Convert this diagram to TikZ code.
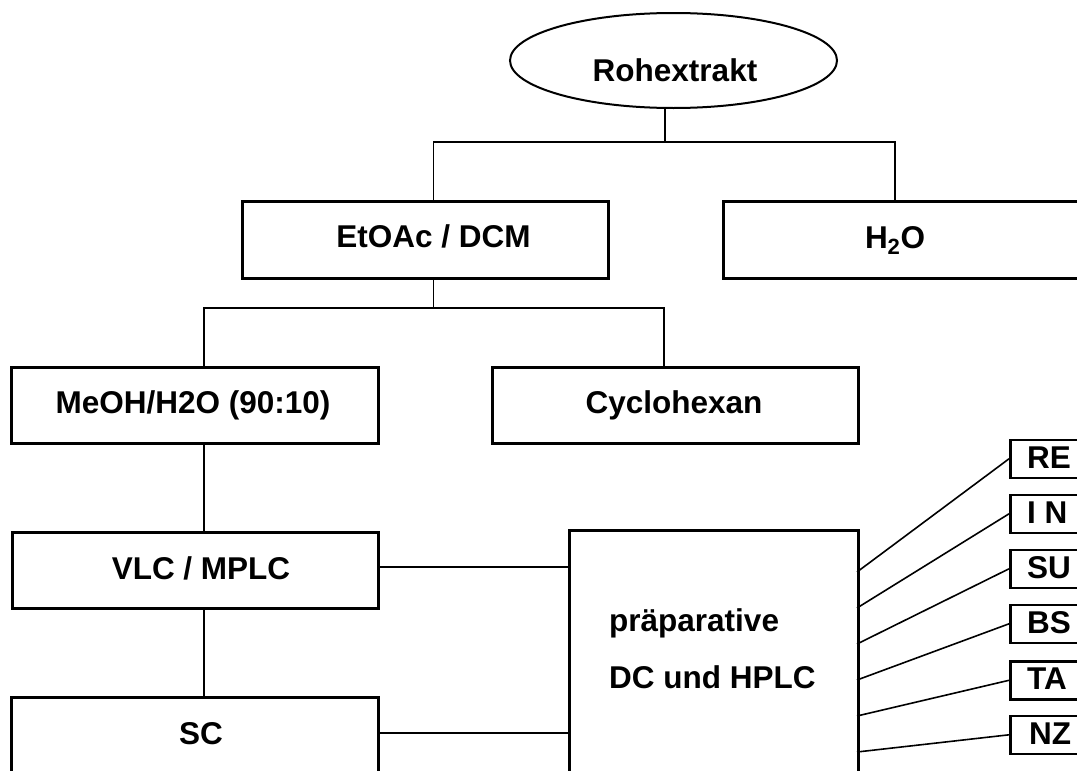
\documentclass[tikz,border=0pt]{standalone}
\usepackage{fontspec}
\setmainfont{Liberation Sans}
\usetikzlibrary{shapes.geometric}
\begin{document}
\begin{tikzpicture}[x=1pt,y=-1pt]
\tikzset{
  boxn/.style={draw, line width=2.6pt, rectangle, inner sep=0pt, anchor=north west},
  lbl/.style={font=\fontsize{31.5}{38}\selectfont\bfseries, inner sep=0pt, anchor=base},
  lblw/.style={lbl, anchor=base west},
  conn/.style={line width=1.6pt},
}
\useasboundingbox (0,0) rectangle (1077,771);
\clip (0,0) rectangle (1077,771);
\fill[white] (0,0) rectangle (1077,771);

% top
\node[ellipse, draw, line width=2pt, minimum width=327pt, minimum height=95pt, inner sep=0pt] (rohex) at (673.5,60.5) {};
\node[lbl] (trohex) at (675,81) {Rohextrakt};

% level 2
\node[boxn, minimum width=366pt, minimum height=77pt] (etoac) at (241,200) {};
\node[lbl] (tetoac) at (433.5,247) {EtOAc / DCM};
\node[boxn, minimum width=400pt, minimum height=77pt] (h2o) at (722,200) {};
\node[lbl] (th2o) at (895,248) {H\textsubscript{2}O};

% level 3
\node[boxn, minimum width=367pt, minimum height=76pt] (meoh) at (10,366) {};
\node[lbl] (tmeoh) at (193,413) {MeOH/H2O (90:10)};
\node[boxn, minimum width=366pt, minimum height=76pt] (cyclo) at (491,366) {};
\node[lbl] (tcyclo) at (674,413) {Cyclohexan};

% left column
\node[boxn, minimum width=366pt, minimum height=76pt] (vlc) at (11,531) {};
\node[lbl] (tvlc) at (201,579) {VLC / MPLC};
\node[boxn, minimum width=367pt, minimum height=90pt] (sc) at (10,696) {};
\node[lbl] (tsc) at (201,744) {SC};

% preparative box
\node[boxn, minimum width=289pt, minimum height=290pt] (prep) at (568,529) {};
\node[lblw] (tprep1) at (609,631) {präparative};
\node[lblw] (tprep2) at (609,688) {DC und HPLC};

% right boxes
\node[boxn, minimum width=120pt, minimum height=38pt] (re) at (1009,438.5) {};
\node[lblw] (tre) at (1027,468) {RE};
\node[boxn, minimum width=120pt, minimum height=38pt] (in) at (1009,493.5) {};
\node[lblw] (tin) at (1027,523) {I N};
\node[boxn, minimum width=120pt, minimum height=38pt] (su) at (1009,548.5) {};
\node[lblw] (tsu) at (1027,578) {SU};
\node[boxn, minimum width=120pt, minimum height=38pt] (bs) at (1009,603.5) {};
\node[lblw] (tbs) at (1027,633) {BS};
\node[boxn, minimum width=120pt, minimum height=38pt] (ta) at (1009,660) {};
\node[lblw] (tta) at (1027,689.5) {TA};
\node[boxn, minimum width=120pt, minimum height=38pt] (nz) at (1009,714.5) {};
\node[lblw] (tnz) at (1029,744) {NZ};

% connectors
\coordinate (j1) at (665,142);
\draw[conn] (rohex.south -| j1) -- (j1);
\draw[conn] (etoac.north -| tetoac) |- (j1) -| (h2o.north -| th2o);
\coordinate (j2) at (433.5,308);
\draw[conn] (etoac.south -| j2) -- (j2);
\coordinate (cL) at (204,0);
\coordinate (cC) at (664,0);
\draw[conn] (meoh.north -| cL) |- (j2) -| (cyclo.north -| cC);
\draw[conn] (meoh.south -| cL) -- (vlc.north -| cL);
\draw[conn] (vlc.south -| cL) -- (sc.north -| cL);
\coordinate (vy) at (0,567);
\coordinate (sy) at (0,733);
\draw[conn] (vlc.east |- vy) -- (prep.west |- vy);
\draw[conn] (sc.east |- sy) -- (prep.west |- sy);

\coordinate (p1) at (857,572);
\coordinate (p2) at (857,608);
\coordinate (p3) at (857,644);
\coordinate (p4) at (857,680);
\coordinate (p5) at (857,716);
\coordinate (p6) at (857,752);
\draw[conn] (p1) -- (re.west);
\draw[conn] (p2) -- (in.west);
\draw[conn] (p3) -- (su.west);
\draw[conn] (p4) -- (bs.west);
\draw[conn] (p5) -- (ta.west);
\draw[conn] (p6) -- (nz.west);
\end{tikzpicture}
\end{document}
